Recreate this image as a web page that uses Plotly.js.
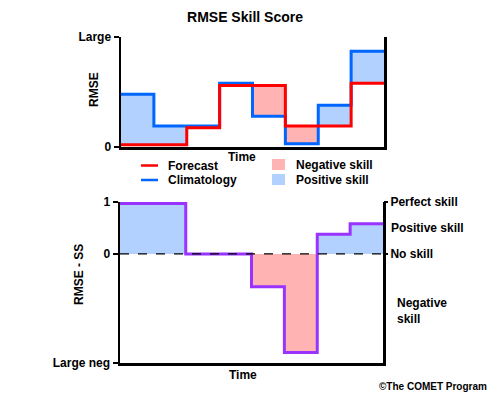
<!DOCTYPE html>
<html>
<head>
<meta charset="utf-8">
<script src="https://cdn.plot.ly/plotly-3.0.1.min.js"></script>
<style>html,body{margin:0;padding:0;background:#fff;}#chart{width:494px;height:397px;}</style>
</head>
<body>
<div id="chart"></div>
<script>
// ---- data ----
var periods = [0, 1, 2, 3, 4, 5, 6, 7];            // time segments
var forecastRMSE    = [0.2, 0.2, 1.75, 5.6, 5.6, 1.9, 1.9, 5.8];
var climatologyRMSE = [4.8, 1.9, 1.9, 5.8, 2.8, 0.3, 3.8, 8.7];
var skillScore      = [0.97, 0.97, 0, 0, -0.63, -1.9, 0.38, 0.58];
var topTickVals = [0, 10];
var topTickText = ['0', 'Large'];
var botTickVals = [-2.1, 0, 1];
var botTickText = ['Large neg', '0', '1'];
var rightTickVals = [1, 0];
var rightTickText = ['Perfect skill', 'No skill'];

// ---- styles ----
var RED = '#ff0000', BLUE = '#0066ff', PURPLE = '#9933ff';
var PINK = '#ffb3b3', LBLUE = '#b3d1ff';
var FONT = 'Liberation Sans, Arial, sans-serif';
var W = 494, H = 397;
function px(x){ return x / W; }
function py(y){ return 1 - y / H; }

function edges(n){ var e=[]; for (var i=0;i<=n;i++) e.push(i); return e; }
function stepY(v){ return v.concat([v[v.length-1]]); }
var centers = periods.map(function(p){ return p + 0.5; });

var topBase = periods.map(function(i){ return Math.min(forecastRMSE[i], climatologyRMSE[i]); });
var topDiff = periods.map(function(i){ return Math.abs(climatologyRMSE[i] - forecastRMSE[i]); });
var topCol  = periods.map(function(i){ return climatologyRMSE[i] >= forecastRMSE[i] ? LBLUE : PINK; });
var botCol  = skillScore.map(function(v){ return v >= 0 ? LBLUE : PINK; });

var traces = [
  {type:'bar', x:centers, y:topDiff, base:topBase, width:1, marker:{color:topCol, line:{width:0}},
   xaxis:'x', yaxis:'y', hoverinfo:'skip', showlegend:false},
  {type:'scatter', mode:'lines', x:edges(8), y:stepY(climatologyRMSE), line:{shape:'hv', color:BLUE, width:3},
   xaxis:'x', yaxis:'y', name:'Climatology', showlegend:false, cliponaxis:false},
  {type:'scatter', mode:'lines', x:edges(8), y:stepY(forecastRMSE), line:{shape:'hv', color:RED, width:3},
   xaxis:'x', yaxis:'y', name:'Forecast', showlegend:false, cliponaxis:false},
  {type:'bar', x:centers, y:skillScore, base:0, width:1, marker:{color:botCol, line:{width:0}},
   xaxis:'x2', yaxis:'y2', hoverinfo:'skip', showlegend:false},
  {type:'scatter', mode:'lines', x:edges(8), y:stepY(skillScore), line:{shape:'hv', color:PURPLE, width:3},
   xaxis:'x2', yaxis:'y2', name:'RMSE - SS', showlegend:false, cliponaxis:false},
  {type:'scatter', mode:'lines', x:[0,8], y:[null,null], xaxis:'x2', yaxis:'y3', showlegend:false, hoverinfo:'skip'}
];

var tickFont = {family:FONT, size:12, color:'#000'};
var txtFont = {family:FONT, size:12, color:'#000'};
function b(t){ return '<b>'+t+'</b>'; }

var layout = {
  width:W, height:H, margin:{l:0,r:0,t:0,b:0},
  paper_bgcolor:'#fff', plot_bgcolor:'rgba(0,0,0,0)',
  showlegend:false, barmode:'overlay', bargap:0,
  font:{family:FONT, color:'#000'},
  title:{text:b('RMSE Skill Score'), font:{family:FONT, size:14, color:'#000'},
         x:245/W, xanchor:'center', y:py(17), yanchor:'middle'},
  xaxis:{domain:[px(121), px(384)], range:[0,8], showgrid:false, zeroline:false,
         showline:true, linecolor:'#000', linewidth:2.5, showticklabels:false, ticks:'', anchor:'y'},
  yaxis:{domain:[py(147), py(37)], range:[0,10], showgrid:false, zeroline:false,
         showline:true, mirror:true, linecolor:'#000', linewidth:2.5, anchor:'x',
         tickmode:'array', tickvals:topTickVals, ticktext:topTickText.map(b),
         ticks:'outside', ticklen:5, tickwidth:2.5, tickcolor:'#000', tickfont:tickFont},
  xaxis2:{domain:[px(120), px(383)], range:[0,8], showgrid:false, zeroline:false,
         showline:true, linecolor:'#000', linewidth:2.5, showticklabels:false, ticks:'', anchor:'y2'},
  yaxis2:{domain:[py(363), py(202)], range:[-2.1,1], showgrid:false, zeroline:false,
         showline:true, mirror:true, linecolor:'#000', linewidth:2.5, anchor:'x2',
         tickmode:'array', tickvals:botTickVals, ticktext:botTickText.map(b),
         ticks:'outside', ticklen:5, tickwidth:2.5, tickcolor:'#000', tickfont:tickFont},
  yaxis3:{overlaying:'y2', side:'right', anchor:'x2', range:[-2.1,1], showgrid:false, zeroline:false,
         showline:false, tickmode:'array', tickvals:rightTickVals, ticktext:rightTickText.map(b),
         ticks:'outside', ticklen:4, tickwidth:2.5, tickcolor:'#000', tickfont:tickFont},
  shapes:[
    {type:'line', xref:'x2', yref:'y2', x0:0, x1:8, y0:0, y1:0, line:{color:'#000', width:1.2, dash:'dash'}, layer:'above'},
    {type:'line', xref:'paper', yref:'paper', x0:px(141), x1:px(158), y0:py(165.5), y1:py(165.5), line:{color:RED, width:2.5}},
    {type:'line', xref:'paper', yref:'paper', x0:px(141), x1:px(158), y0:py(180), y1:py(180), line:{color:BLUE, width:2.5}},
    {type:'rect', xref:'paper', yref:'paper', x0:px(272), x1:px(285), y0:py(170), y1:py(159), fillcolor:PINK, line:{width:0}},
    {type:'rect', xref:'paper', yref:'paper', x0:px(272), x1:px(285), y0:py(185), y1:py(174), fillcolor:LBLUE, line:{width:0}}
  ],
  annotations:[
    {xref:'paper', yref:'paper', x:px(94), y:py(90), xanchor:'center', yanchor:'middle', showarrow:false,
     textangle:-90, text:b('RMSE'), font:txtFont},
    {xref:'paper', yref:'paper', x:px(79), y:py(275), xanchor:'center', yanchor:'middle', showarrow:false,
     textangle:-90, text:b('RMSE - SS'), font:txtFont},
    {xref:'paper', yref:'paper', x:px(242), y:py(157), xanchor:'center', yanchor:'middle', showarrow:false,
     text:b('Time'), font:txtFont},
    {xref:'paper', yref:'paper', x:px(243), y:py(375), xanchor:'center', yanchor:'middle', showarrow:false,
     text:b('Time'), font:txtFont},
    {xref:'paper', yref:'paper', x:px(166), y:py(165.5), xanchor:'left', yanchor:'middle', showarrow:false,
     text:b('Forecast'), font:txtFont},
    {xref:'paper', yref:'paper', x:px(166), y:py(180), xanchor:'left', yanchor:'middle', showarrow:false,
     text:b('Climatology'), font:txtFont},
    {xref:'paper', yref:'paper', x:px(294), y:py(165), xanchor:'left', yanchor:'middle', showarrow:false,
     text:b('Negative skill'), font:txtFont},
    {xref:'paper', yref:'paper', x:px(294), y:py(180), xanchor:'left', yanchor:'middle', showarrow:false,
     text:b('Positive skill'), font:txtFont},
    {xref:'paper', yref:'y2', x:px(389), y:0.5, xanchor:'left', yanchor:'middle', showarrow:false,
     text:b('Positive skill'), font:txtFont},
    {xref:'paper', yref:'paper', x:px(395), y:py(311), xanchor:'left', yanchor:'middle', showarrow:false, align:'left',
     text:b('Negative<br>skill'), font:txtFont},
    {xref:'paper', yref:'paper', x:px(489), y:py(386), xanchor:'right', yanchor:'middle', showarrow:false,
     text:b('©The COMET Program'), font:{family:FONT, size:10, color:'#000'}}
  ]
};

Plotly.newPlot('chart', traces, layout, {staticPlot:true, displayModeBar:false});
</script>
</body>
</html>
